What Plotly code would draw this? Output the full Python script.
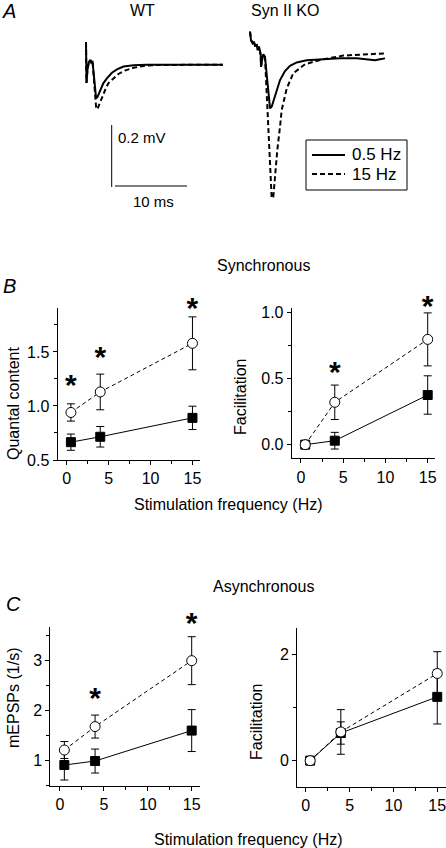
import plotly.graph_objects as go

W, H = 446, 848
FONT = "Liberation Sans, Arial, Helvetica, sans-serif"

# ---------------- Panel A: averaged EPSP traces (time ms, voltage mV) ----------------
wt_t_05 = [0, 0.07, 0.2, 0.4, 0.6, 0.75, 0.9, 1.05, 1.25, 1.4, 1.6, 1.95, 2.4, 2.9, 3.6, 4.3, 5.2, 6.6, 8.4, 19.0]
wt_v_05 = [0.074, -0.058, -0.016, 0.010, 0.016, 0.006, 0.013, -0.032, -0.087, -0.107, -0.103, -0.081,
           -0.059, -0.043, -0.025, -0.014, -0.005, -0.001, 0.001, 0.001]
wt_t_15 = [0, 0.07, 0.2, 0.4, 0.6, 0.75, 0.9, 1.05, 1.25, 1.4, 1.57, 1.85, 2.2, 2.65, 3.1, 3.8, 4.5,
           5.4, 6.6, 8.0, 9.8, 19.0]
wt_v_15 = [0.074, -0.058, -0.016, 0.010, 0.016, 0.006, 0.013, -0.032, -0.095, -0.135, -0.143, -0.126,
           -0.102, -0.081, -0.059, -0.043, -0.029, -0.018, -0.009, -0.003, 0.0, 0.001]

ko_t_05 = [0.07, 0.21, 0.44, 0.63, 0.76, 1.0, 1.14, 1.32, 1.56, 1.6, 1.78, 1.92, 2.15, 2.39, 2.61, 2.85,
           3.08, 3.31, 3.78, 4.24, 4.93, 5.63, 6.56, 7.94, 10.25, 12.57, 14.89, 16.28, 17.43, 18.13, 18.82]
ko_v_05 = [0.089, 0.062, 0.052, 0.057, 0.044, 0.046, 0.030, 0.041, 0.014, -0.024, 0.003, 0.016, 0.008,
           -0.051, -0.115, -0.158, -0.153, -0.135, -0.096, -0.067, -0.038, -0.021, -0.010, -0.003, 0.0,
           0.003, 0.003, 0.001, -0.003, 0.0, 0.003]
ko_t_15 = [0.07, 0.21, 0.44, 0.63, 0.76, 1.0, 1.14, 1.32, 1.56, 1.6, 1.78, 1.92, 2.15, 2.29, 2.39, 2.61,
           2.85, 3.08, 3.31, 3.54, 3.86, 4.24, 4.47, 5.17, 6.08, 7.71, 9.79, 13.03, 17.19, 18.82]
ko_v_15 = [0.089, 0.062, 0.052, 0.057, 0.044, 0.046, 0.030, 0.041, 0.014, -0.024, 0.003, 0.016, 0.008,
           -0.067, -0.131, -0.239, -0.346, -0.448, -0.443, -0.379, -0.293, -0.217, -0.164, -0.094,
           -0.045, -0.016, -0.002, 0.012, 0.016, 0.019]

legend_labels = ["0.5 Hz", "15 Hz"]
scale_ms = 10
scale_mv = 0.2

# ---------------- Panels B & C: group data ----------------
freq = [0.5, 4, 15]

# B, synchronous quantal content
qc_wt = [0.665, 0.715, 0.89]
qc_wt_err = [0.075, 0.095, 0.108]
qc_ko = [0.94, 1.13, 1.58]
qc_ko_err = [0.08, 0.165, 0.245]

# B, synchronous facilitation
fs_wt = [0.0, 0.03, 0.375]
fs_wt_err = [0.0, 0.063, 0.145]
fs_ko = [0.0, 0.32, 0.795]
fs_ko_err = [0.0, 0.13, 0.20]

# C, asynchronous mEPSP rate (1/s)
me_wt = [0.91, 0.99, 1.6]
me_wt_err = [0.30, 0.24, 0.42]
me_ko = [1.21, 1.68, 3.0]
me_ko_err = [0.17, 0.23, 0.48]

# C, asynchronous facilitation
fa_wt = [0.0, 0.52, 1.2]
fa_wt_err = [0.0, 0.21, 0.51]
fa_ko = [0.0, 0.54, 1.64]
fa_ko_err = [0.0, 0.42, 0.41]

# significance stars (x, y in data units)
star_qc_x = [0.5, 4, 15]
star_qc_y = [1.225, 1.49, 1.94]
star_fs_x = [4, 15]
star_fs_y = [0.577, 1.07]
star_me_x = [4, 15]
star_me_y = [2.33, 3.83]


def dx(a, b):
    return [a / W, b / W]


def dy(top, bottom):
    return [1 - bottom / H, 1 - top / H]


SOLID = dict(color="black", width=2)
DASHED = dict(color="black", width=2, dash="5px,3px")

fig = go.Figure()

# ---- Panel A traces ----
fig.add_trace(go.Scatter(x=wt_t_05, y=wt_v_05, mode="lines", line=SOLID, name="WT " + legend_labels[0],
                         showlegend=False, xaxis="x5", yaxis="y5"))
fig.add_trace(go.Scatter(x=wt_t_15, y=wt_v_15, mode="lines", line=DASHED, name="WT " + legend_labels[1],
                         showlegend=False, xaxis="x5", yaxis="y5"))
fig.add_trace(go.Scatter(x=ko_t_05, y=ko_v_05, mode="lines", line=SOLID, name="KO " + legend_labels[0],
                         showlegend=False, xaxis="x6", yaxis="y6"))
fig.add_trace(go.Scatter(x=ko_t_15, y=ko_v_15, mode="lines", line=DASHED, name="KO " + legend_labels[1],
                         showlegend=False, xaxis="x6", yaxis="y6"))


def add_pair(xa, ya, wt, wt_err, ko, ko_err):
    fig.add_trace(go.Scatter(
        x=freq, y=wt, mode="lines+markers", showlegend=False, xaxis=xa, yaxis=ya, cliponaxis=False,
        line=dict(color="black", width=1),
        marker=dict(symbol="square", size=9, color="black", line=dict(color="black", width=1)),
        error_y=dict(type="data", array=wt_err, visible=True, color="black", thickness=1, width=4)))
    fig.add_trace(go.Scatter(
        x=freq, y=ko, mode="lines+markers", showlegend=False, xaxis=xa, yaxis=ya, cliponaxis=False,
        line=dict(color="black", width=1, dash="4px,3px"),
        marker=dict(symbol="circle", size=10, color="white", line=dict(color="black", width=1)),
        error_y=dict(type="data", array=ko_err, visible=True, color="black", thickness=1, width=4)))


add_pair("x", "y", qc_wt, qc_wt_err, qc_ko, qc_ko_err)
add_pair("x2", "y2", fs_wt, fs_wt_err, fs_ko, fs_ko_err)
add_pair("x3", "y3", me_wt, me_wt_err, me_ko, me_ko_err)
add_pair("x4", "y4", fa_wt, fa_wt_err, fa_ko, fa_ko_err)

tickfont = dict(family=FONT, size=16, color="black")


def xax(domain, anchor, rng):
    return dict(domain=domain, anchor=anchor, range=rng, showline=True, linecolor="black", linewidth=1,
                ticks="outside", ticklen=4, tickwidth=1, tickcolor="black", tick0=0, dtick=5,
                showgrid=False, zeroline=False, tickfont=tickfont, fixedrange=True, automargin=False,
                ticklabeloverflow="allow",
                minor=dict(ticks="outside", ticklen=3, tickwidth=1, tickcolor="black", dtick=2.5, tick0=0,
                           showgrid=False))


def yax(domain, anchor, rng, dtick, minor, fmt):
    return dict(domain=domain, anchor=anchor, range=rng, showline=True, linecolor="black", linewidth=1,
                ticks="outside", ticklen=4, tickwidth=1, tickcolor="black", tick0=0, dtick=dtick,
                tickformat=fmt, showgrid=False, zeroline=False, tickfont=tickfont, fixedrange=True,
                automargin=False, ticklabeloverflow="allow",
                minor=dict(ticks="outside", ticklen=3, tickwidth=1, tickcolor="black", dtick=minor, tick0=0,
                           showgrid=False))


hidden = dict(visible=False, showgrid=False, zeroline=False, fixedrange=True, automargin=False)

# plot-area boxes in pixels: (left, right, top, bottom) and data ranges
BOX = {
    "1": ((57.5, 200.0, 308.0, 460.0), [-1.1, 15.9], [0.5, 1.907]),
    "2": ((291.7, 435.3, 308.0, 458.3), [-1.1, 15.9], [-0.103, 1.032]),
    "3": ((50.3, 199.6, 626.7, 785.5), [-1.1, 15.9], [0.5, 3.68]),
    "4": ((297.0, 446.0, 628.3, 786.7), [-1.0, 16.0], [-0.49, 2.49]),
}

layout = dict(
    template="none",
    width=W, height=H, margin=dict(l=0, r=0, t=0, b=0, pad=0, autoexpand=False),
    paper_bgcolor="white", plot_bgcolor="rgba(0,0,0,0)",
    font=dict(family=FONT, size=15, color="black"),
    xaxis5=dict(hidden, domain=dx(80, 230), anchor="y5", range=[-0.833, 20.0]),
    yaxis5=dict(hidden, domain=dy(30, 215), anchor="x5", range=[-0.4839, 0.1129]),
    xaxis6=dict(hidden, domain=dx(243.5, 393.5), anchor="y6", range=[-0.833, 20.0]),
    yaxis6=dict(hidden, domain=dy(25, 210), anchor="x6", range=[-0.486, 0.1106]),
    showlegend=False,
)
fmts = {"1": (0.5, 0.25, ".1f"), "2": (0.5, 0.25, ".1f"), "3": (1, 0.5, "d"), "4": (2, 1, "d")}
for k, ((l, r, t, b), xr, yr) in BOX.items():
    s = "" if k == "1" else k
    layout["xaxis" + s] = xax(dx(l, r), "y" + s, xr)
    layout["yaxis" + s] = yax(dy(t, b), "x" + s, yr, *fmts[k])

# Hidden overlay axes that share the scale of panels 1-3 but reach higher, for the stars.
STAR_EXTRA_PX = 40     # extra room above the plot area
STAR_GLYPH_DROP = 6    # the '*' glyph sits high in its text box
star_sets = [("1", star_qc_x, star_qc_y), ("2", star_fs_x, star_fs_y), ("3", star_me_x, star_me_y)]
for i, (k, xs, ys) in enumerate(star_sets):
    (l, r, t, b), xr, yr = BOX[k]
    n = str(7 + i)
    upp = (yr[1] - yr[0]) / (b - t)
    layout["xaxis" + n] = dict(hidden, domain=dx(l, r), anchor="y" + n, range=xr)
    layout["yaxis" + n] = dict(hidden, domain=dy(t - STAR_EXTRA_PX + STAR_GLYPH_DROP, b + STAR_GLYPH_DROP),
                               anchor="x" + n, range=[yr[0], yr[1] + STAR_EXTRA_PX * upp])
    fig.add_trace(go.Scatter(x=xs, y=ys, mode="text", text=["*"] * len(xs), textposition="middle center",
                             textfont=dict(family=FONT, size=30, color="black", weight="bold"),
                             cliponaxis=False, showlegend=False, hoverinfo="skip",
                             xaxis="x" + n, yaxis="y" + n))

fig.update_layout(**layout)

# scale bar (drawn in WT trace axes units)
sb_t0, sb_v0 = 4.03, -0.3903
fig.add_shape(type="line", xref="x5", yref="y5", x0=sb_t0, x1=sb_t0 + scale_ms, y0=sb_v0, y1=sb_v0,
              line=dict(color="black", width=1))
fig.add_shape(type="line", xref="x5", yref="y5", x0=3.57, x1=3.57, y0=-0.1935, y1=-0.1935 - scale_mv,
              line=dict(color="black", width=1))

# key box for the two stimulation rates
LEG = dict(left=306, right=407, top=140, bottom=190, rows=[155, 174], x0=312, x1=345, tx=350)
fig.add_shape(type="rect", xref="paper", yref="paper", x0=LEG["left"] / W, x1=LEG["right"] / W,
              y0=1 - LEG["bottom"] / H, y1=1 - LEG["top"] / H, line=dict(color="black", width=1),
              fillcolor="white", layer="above")
for row_y, style in zip(LEG["rows"], [SOLID, DASHED]):
    fig.add_shape(type="line", xref="paper", yref="paper", x0=LEG["x0"] / W, x1=LEG["x1"] / W,
                  y0=1 - row_y / H, y1=1 - row_y / H, line=style, layer="above")

ann = []


def text(x, y, s, size=16, **kw):
    d = dict(x=x / W, y=1 - y / H, xref="paper", yref="paper", text=s, showarrow=False,
             font=dict(family=FONT, size=size, color="black"), xanchor="center", yanchor="middle")
    d.update(kw)
    ann.append(d)


for row_y, lab in zip(LEG["rows"], legend_labels):
    text(LEG["tx"], row_y, lab, size=17, xanchor="left")

text(9, 11, "<i>A</i>", size=20)
text(142, 10, "WT")
text(285, 10, "Syn II KO")
text(116, 137, "0.2 mV", size=15, xanchor="left")
text(153, 201, "10 ms", size=15)

text(9, 286, "<i>B</i>", size=20)
text(263, 265, "Synchronous")
text(228, 504, "Stimulation frequency (Hz)")
text(13, 403, "Quantal content", textangle=-90)
text(240, 397, "Facilitation", textangle=-90)

text(13, 604, "<i>C</i>", size=20)
text(263, 586, "Asynchronous")
text(249, 839, "Stimulation frequency (Hz)")
text(13, 698, "mEPSPs (1/s)", textangle=-90)
text(256, 722, "Facilitation", textangle=-90)

fig.update_layout(annotations=ann)
fig.write_html("out.html", config=dict(displayModeBar=False, staticPlot=True),
               post_script="document.body.style.margin='0';document.body.style.padding='0';"
                           "document.documentElement.style.overflow='hidden';")
